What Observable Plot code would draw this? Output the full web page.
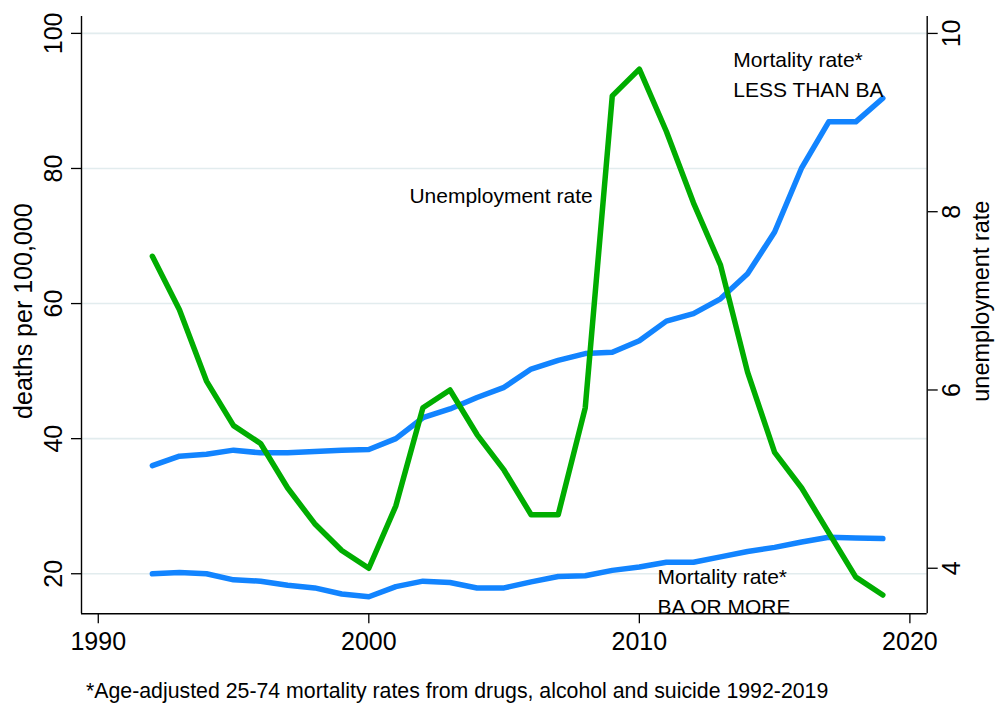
<!DOCTYPE html>
<html>
<head>
<meta charset="utf-8">
<script src="https://cdn.jsdelivr.net/npm/d3@7"></script>
<script src="https://cdn.jsdelivr.net/npm/@observablehq/plot@0.6"></script>
<style>
  html, body { margin: 0; padding: 0; background: #fff; }
  #wrap { width: 998px; height: 704px; position: relative; overflow: hidden; font-family: "Liberation Sans", Arial, sans-serif; }
  #caption { position: absolute; left: 86px; top: 679px; font-size: 21.3px; line-height: 24px; color: #000; white-space: nowrap; }
</style>
</head>
<body>
<div id="wrap">
  <div id="chart"></div>
  <div id="caption">*Age-adjusted 25-74 mortality rates from drugs, alcohol and suicide 1992-2019</div>
</div>
<script>
// ---- data ----
const years = [1992,1993,1994,1995,1996,1997,1998,1999,2000,2001,2002,2003,2004,2005,2006,2007,2008,2009,2010,2011,2012,2013,2014,2015,2016,2017,2018,2019];
const mortalityLessThanBA = [36.0,37.4,37.7,38.3,37.9,37.9,38.1,38.3,38.4,40.0,43.1,44.4,46.1,47.6,50.3,51.6,52.6,52.8,54.5,57.4,58.5,60.7,64.4,70.6,80.1,86.9,86.9,90.4];
const mortalityBAOrMore = [20.0,20.2,20.0,19.1,18.9,18.3,17.9,17.0,16.6,18.1,18.9,18.7,17.9,17.9,18.8,19.6,19.7,20.5,21.0,21.7,21.7,22.5,23.3,23.9,24.7,25.4,25.3,25.2];
const unemploymentRate = [7.5,6.9,6.1,5.6,5.4,4.9,4.5,4.2,4.0,4.7,5.8,6.0,5.5,5.1,4.6,4.6,5.8,9.3,9.6,8.9,8.1,7.4,6.2,5.3,4.9,4.4,3.9,3.7];

const xTicks = [1990, 2000, 2010, 2020];
const leftTicks = [20, 40, 60, 80, 100];
const rightTicks = [4, 6, 8, 10];

const xDomain = [1989.38, 2020.64];
const leftDomain = [14.07, 102.5];
const rightDomain = [3.489, 10.19];

const labelYears = [2001.5, 2013.47, 2010.67];
const labelValues = [76.3, 94.27, 17.67];
const labelTexts = ["Unemployment rate", "Mortality rate*\nLESS THAN BA", "Mortality rate*\nBA OR MORE"];

// ---- build ----
const toLeft = u => leftDomain[0] + (u - rightDomain[0]) * (leftDomain[1] - leftDomain[0]) / (rightDomain[1] - rightDomain[0]);
const fromLeft = v => rightDomain[0] + (v - leftDomain[0]) * (rightDomain[1] - rightDomain[0]) / (leftDomain[1] - leftDomain[0]);

const rows = years.map((y, i) => ({year: y, less: mortalityLessThanBA[i], more: mortalityBAOrMore[i], unemp: unemploymentRate[i]}));
const labels = labelTexts.map((t, i) => ({x: labelYears[i], y: labelValues[i], text: t}));

const BLUE = "#1284ff";
const GREEN = "#00ad00";
const FONT = "Liberation Sans, Arial, sans-serif";

const chart = Plot.plot({
  width: 998,
  height: 664,
  marginLeft: 81,
  marginRight: 71.3,
  marginTop: 16,
  marginBottom: 50.7,
  style: {fontFamily: FONT, color: "#000", background: "#fff", overflow: "visible"},
  x: {domain: xDomain},
  y: {domain: leftDomain},
  marks: [
    Plot.gridY(leftTicks, {stroke: "#e2ecee", strokeOpacity: 1, strokeWidth: 1.6}),
    Plot.ruleX([xDomain[0]], {stroke: "#000", strokeWidth: 1.4}),
    Plot.ruleX([xDomain[1]], {stroke: "#000", strokeWidth: 1.4}),
    Plot.ruleY([leftDomain[0]], {stroke: "#000", strokeWidth: 1.4}),
    Plot.axisX(xTicks, {tickSize: 10, tickPadding: 8, fontSize: 25, tickFormat: d => String(d), label: null, strokeWidth: 1.3}),
    Plot.axisY(leftTicks, {anchor: "left", tickSize: 10, tickPadding: 10, tickRotate: -90, textAnchor: "middle", lineAnchor: "bottom", fontSize: 25, label: null, strokeWidth: 1.3}),
    Plot.axisY(rightTicks.map(toLeft), {anchor: "right", tickSize: 10, tickPadding: 5, tickRotate: -90, textAnchor: "middle", lineAnchor: "top", fontSize: 25, label: null, strokeWidth: 1.3, tickFormat: v => String(Math.round(fromLeft(v)))}),
    Plot.text(["deaths per 100,000"], {frameAnchor: "left", rotate: -90, dx: -50, dy: -4, textAnchor: "middle", lineAnchor: "bottom", fontSize: 25}),
    Plot.text(["unemployment rate"], {frameAnchor: "right", rotate: -90, dx: 45, dy: -14, textAnchor: "middle", lineAnchor: "top", fontSize: 23.5}),
    Plot.line(rows, {x: "year", y: "less", stroke: BLUE, strokeWidth: 5.5, strokeLinejoin: "round", strokeLinecap: "round"}),
    Plot.line(rows, {x: "year", y: "more", stroke: BLUE, strokeWidth: 5.5, strokeLinejoin: "round", strokeLinecap: "round"}),
    Plot.line(rows, {x: "year", y: d => toLeft(d.unemp), stroke: GREEN, strokeWidth: 5.5, strokeLinejoin: "round", strokeLinecap: "round"}),
    Plot.text(labels, {x: "x", y: "y", text: "text", textAnchor: "start", lineAnchor: "middle", lineHeight: 1.43, fontSize: 21, fill: "#000"})
  ]
});
document.getElementById("chart").appendChild(chart);
</script>
</body>
</html>
